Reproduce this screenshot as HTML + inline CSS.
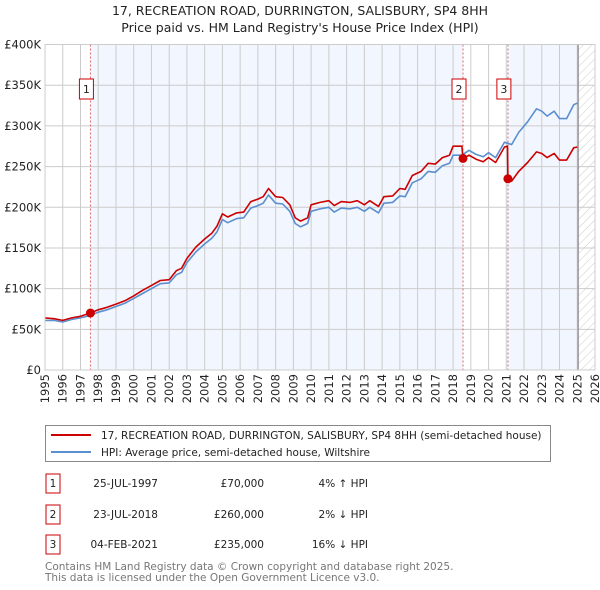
<!DOCTYPE html>
<html><head><meta charset="utf-8"><style>
body{margin:0;width:600px;height:590px;background:#fff;font-family:"Liberation Sans","DejaVu Sans",sans-serif;overflow:hidden}
svg{position:absolute;left:0;top:0}
text{font-family:"DejaVu Sans","Liberation Sans",sans-serif}
</style></head><body>
<svg width="600" height="590">
<defs><pattern id="hatch" width="6" height="6" patternUnits="userSpaceOnUse" patternTransform="rotate(45)"><line x1="0" y1="0" x2="0" y2="6" stroke="#ccc" stroke-width="1"/></pattern></defs>
<text x="300" y="15" text-anchor="middle" font-size="12.5" fill="#222">17, RECREATION ROAD, DURRINGTON, SALISBURY, SP4 8HH</text>
<text x="300" y="32" text-anchor="middle" font-size="12.5" fill="#222">Price paid vs. HM Land Registry's House Price Index (HPI)</text>
<g id="plot"></g>
<g id="legend">
<rect x="45.5" y="425.5" width="505" height="36" fill="#fff" stroke="#888"/>
<line x1="51" y1="435" x2="91" y2="435" stroke="#cc0000" stroke-width="2"/>
<text x="101" y="439" font-size="10.5" fill="#222">17, RECREATION ROAD, DURRINGTON, SALISBURY, SP4 8HH (semi-detached house)</text>
<line x1="51" y1="452" x2="91" y2="452" stroke="#5b8fd0" stroke-width="2"/>
<text x="101" y="456" font-size="10.5" fill="#222">HPI: Average price, semi-detached house, Wiltshire</text>
</g>
<g font-size="10.5" fill="#222">
<rect x="46" y="474" width="14" height="19" fill="#fff" stroke="#cc0000"/><text x="53" y="487" text-anchor="middle">1</text>
<text x="158" y="487" text-anchor="end">25-JUL-1997</text><text x="264" y="487" text-anchor="end">£70,000</text><text x="368" y="487" text-anchor="end">4% ↑ HPI</text>
<rect x="46" y="505" width="14" height="19" fill="#fff" stroke="#cc0000"/><text x="53" y="518" text-anchor="middle">2</text>
<text x="158" y="518" text-anchor="end">23-JUL-2018</text><text x="264" y="518" text-anchor="end">£260,000</text><text x="368" y="518" text-anchor="end">2% ↓ HPI</text>
<rect x="46" y="535" width="14" height="19" fill="#fff" stroke="#cc0000"/><text x="53" y="548" text-anchor="middle">3</text>
<text x="158" y="548" text-anchor="end">04-FEB-2021</text><text x="264" y="548" text-anchor="end">£235,000</text><text x="368" y="548" text-anchor="end">16% ↓ HPI</text>
</g>
<text x="45" y="570" font-size="10.5" fill="#777">Contains HM Land Registry data © Crown copyright and database right 2025.</text>
<text x="45" y="581" font-size="10.5" fill="#777">This data is licensed under the Open Government Licence v3.0.</text>
</svg>
<script>
const yTicks=[0,50000,100000,150000,200000,250000,300000,350000,400000];
const yTickLabels=["£0","£50K","£100K","£150K","£200K","£250K","£300K","£350K","£400K"];
const xYears=[1995,1996,1997,1998,1999,2000,2001,2002,2003,2004,2005,2006,2007,2008,2009,2010,2011,2012,2013,2014,2015,2016,2017,2018,2019,2020,2021,2022,2023,2024,2025,2026];
const hpiDates=[1995.0,1995.5,1996.0,1996.5,1997.0,1997.56,1998.0,1998.5,1999.0,1999.5,2000.0,2000.5,2001.0,2001.5,2002.0,2002.4,2002.7,2003.0,2003.5,2004.0,2004.4,2004.7,2005.0,2005.3,2005.8,2006.2,2006.6,2007.0,2007.3,2007.6,2008.0,2008.4,2008.8,2009.1,2009.4,2009.8,2010.0,2010.5,2011.0,2011.3,2011.7,2012.2,2012.6,2013.0,2013.3,2013.8,2014.1,2014.6,2015.0,2015.3,2015.7,2016.2,2016.6,2017.0,2017.4,2017.8,2018.0,2018.5,2018.9,2019.3,2019.7,2020.0,2020.4,2020.9,2021.3,2021.7,2022.2,2022.7,2023.0,2023.3,2023.7,2024.0,2024.4,2024.8,2025.0];
const hpiValues=[61,61,59,62,64,67,71,74,78,82,88,94,100,106,107,117,120,132,145,155,162,170,185,181,186,187,199,202,205,215,205,204,195,180,176,180,195,198,200,194,199,198,200,195,200,193,205,206,214,213,230,235,244,243,251,254,264,264,270,265,262,267,261,280,277,292,305,321,318,312,318,309,309,326,328];
const propDates=[1995.0,1995.5,1996.0,1996.5,1997.0,1997.56,1998.0,1998.5,1999.0,1999.5,2000.0,2000.5,2001.0,2001.5,2002.0,2002.4,2002.7,2003.0,2003.5,2004.0,2004.4,2004.7,2005.0,2005.3,2005.8,2006.2,2006.6,2007.0,2007.3,2007.6,2008.0,2008.4,2008.8,2009.1,2009.4,2009.8,2010.0,2010.5,2011.0,2011.3,2011.7,2012.2,2012.6,2013.0,2013.3,2013.8,2014.1,2014.6,2015.0,2015.3,2015.7,2016.2,2016.6,2017.0,2017.4,2017.8,2018.0,2018.5,2018.56,2018.9,2019.3,2019.7,2020.0,2020.4,2020.9,2021.07,2021.09,2021.3,2021.7,2022.2,2022.7,2023.0,2023.3,2023.7,2024.0,2024.4,2024.8,2025.0];
const propValues=[64,63,61,64,66,70,74,77,81,85,91,98,104,110,111,122,125,137,151,161,168,177,192,188,193,194,207,210,213,223,213,212,203,187,183,187,203,206,208,202,207,206,208,203,208,201,213,214,223,222,239,244,254,253,261,264,275,275,260,264,259,256,261,255,274,275,235,232,244,255,268,266,261,266,258,258,273,274];
const saleDates=[1997.56,2018.56,2021.09];
const salePrices=[70000,260000,235000];
const saleLabels=["1","2","3"];
const X0=45,X1=595,Y0=370,Y1=44.5,YMIN=1995,YMAX=2026;
function xs(t){return X0+(t-YMIN)/(YMAX-YMIN)*(X1-X0);}
function ys(v){return Y0-v/400000*(Y0-Y1);}
const NS="http://www.w3.org/2000/svg";
const g=document.getElementById('plot');
function mk(tag,attrs,parent){const e=document.createElementNS(NS,tag);for(const k in attrs)e.setAttribute(k,attrs[k]);(parent||g).appendChild(e);return e;}
let r;
r=mk('rect',{x:X0,y:Y1,width:X1-X0,height:Y0-Y1,fill:'#fff'});


r=mk('rect',{x:xs(saleDates[0]),y:Y1,width:xs(saleDates[1])-xs(saleDates[0]),height:Y0-Y1,fill:'#f2f6fe'});


r=mk('rect',{x:xs(saleDates[2]),y:Y1,width:xs(2025.05)-xs(saleDates[2]),height:Y0-Y1,fill:'#f2f6fe'});


r=mk('rect',{x:xs(2025.05),y:Y1,width:X1-xs(2025.05),height:Y0-Y1,fill:'url(#hatch)'});


xYears.forEach((yr)=>{const l=mk('line',{x1:xs(yr),x2:xs(yr),y1:Y1,y2:Y0,stroke:'#ccc','stroke-width':1});


const t=mk('text',{x:0,y:0,'font-size':11.5,fill:'#222','text-anchor':'end',transform:`translate(${xs(yr)+4},${Y0+4}) rotate(-90)`});t.textContent=yr;

});
yTicks.forEach((v,i)=>{const l=mk('line',{x1:X0,x2:X1,y1:ys(v),y2:ys(v),stroke:'#ccc','stroke-width':1});


const t=mk('text',{x:X0-4,y:ys(v)+4,'font-size':11.5,fill:'#222','text-anchor':'end'});t.textContent=yTickLabels[i];

});
r=mk('line',{x1:xs(2025.05),x2:xs(2025.05),y1:Y1,y2:Y0,stroke:'#888','stroke-width':1.2});


saleDates.forEach((d,i)=>{const l=mk('line',{x1:xs(d),x2:xs(d),y1:Y1,y2:Y0,stroke:'#e06666','stroke-width':1,'stroke-dasharray':'2,2'});

});
function path(ds,vs,color,name){const p=mk('path',{d:ds.map((d,i)=>(i?'L':'M')+xs(d).toFixed(1)+','+ys(vs[i]*1000).toFixed(1)).join(''),fill:'none',stroke:color,'stroke-width':1.6,'stroke-linejoin':'round'});

}
path(hpiDates,hpiValues,'#5b8fd0','hpi-line');
path(propDates,propValues,'#cc0000','property-line');
saleDates.forEach((d,i)=>{const c=mk('circle',{cx:xs(d),cy:ys(salePrices[i]),r:4.5,fill:'#cc0000'});


const b=mk('rect',{x:xs(d)-11,y:79,width:14,height:20,fill:'#fff',stroke:'#cc0000'});


const t=mk('text',{x:xs(d)-4,y:93,'font-size':11,fill:'#222','text-anchor':'middle'});t.textContent=saleLabels[i];

});
r=mk('rect',{x:X0,y:Y1,width:X1-X0,height:Y0-Y1,fill:'none',stroke:'#ccc'});


</script>
</body></html>
